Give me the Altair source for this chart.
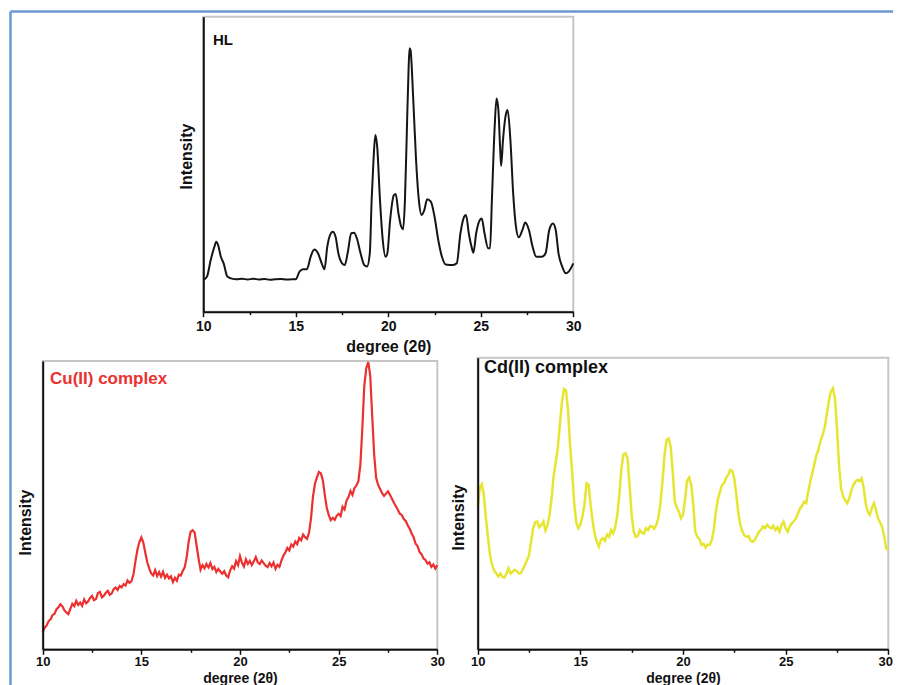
import altair as alt
import pandas as pd

# ---------------- data ----------------
hl_x = [10.0, 10.2, 10.4, 10.6, 10.7, 10.8, 10.95, 11.1, 11.3, 11.5,
        11.8, 12.1, 12.4, 12.7, 13.0, 13.3, 13.6, 13.9, 14.2, 14.5,
        14.8, 15.0, 15.2, 15.4, 15.6, 15.8, 16.0, 16.2, 16.4, 16.55,
        16.7, 16.9, 17.0, 17.15, 17.3, 17.5, 17.65, 17.8, 18.0, 18.15,
        18.3, 18.5, 18.7, 18.85, 19.0, 19.1, 19.2, 19.3, 19.4, 19.55,
        19.7, 19.85, 19.95, 20.1, 20.3, 20.4, 20.55, 20.7, 20.8, 20.9,
        21.0, 21.1, 21.15, 21.2, 21.35, 21.5, 21.65, 21.8, 21.95, 22.1,
        22.3, 22.5, 22.7, 22.9, 23.1, 23.5, 23.7, 23.9, 24.1, 24.2,
        24.35, 24.5, 24.6, 24.75, 24.95, 25.05, 25.2, 25.4, 25.5, 25.6,
        25.75, 25.85, 25.95, 26.05, 26.1, 26.2, 26.35, 26.45, 26.6, 26.75,
        26.9, 27.05, 27.25, 27.4, 27.6, 27.8, 28.0, 28.3, 28.5, 28.7,
        28.9, 29.05, 29.2, 29.4, 29.6, 29.75, 30.0]
hl_y = [10.7, 11.9, 17.5, 22.0, 23.7, 22.6, 18.6, 16.4, 11.9, 11.3,
        11.0, 11.2, 10.9, 11.2, 10.9, 11.1, 10.8, 11.0, 11.1, 10.9,
        11.0, 11.0, 13.6, 14.4, 14.4, 18.6, 21.1, 19.8, 16.4, 14.4,
        22.0, 26.6, 27.1, 25.4, 19.8, 16.4, 15.8, 19.8, 26.6, 26.8,
        24.9, 19.8, 15.8, 15.3, 19.8, 37.9, 51.4, 59.9, 55.9, 37.9,
        24.3, 18.6, 19.8, 31.1, 39.5, 39.9, 33.3, 28.8, 27.9, 37.9,
        60.5, 83.0, 89.3, 88.7, 71.8, 51.4, 37.9, 32.8, 34.5, 38.1,
        37.3, 32.2, 24.3, 18.6, 16.0, 15.8, 16.4, 26.6, 32.2, 32.8,
        26.6, 22.0, 20.0, 26.6, 31.1, 31.6, 26.6, 21.5, 21.5, 37.9,
        62.7, 72.3, 68.4, 54.8, 49.4, 58.2, 66.7, 68.4, 58.2, 40.1,
        28.8, 25.2, 27.7, 30.2, 27.7, 22.0, 18.6, 18.6, 19.8, 27.7,
        29.9, 27.7, 19.8, 15.3, 13.0, 13.6, 16.4]

# Cu(II) complex: one value every 0.1 degree from 10.0 to 30.0
cu_y = [6.1, 7.5, 8.3, 9.8, 10.4, 11.9, 12.3, 13.9, 14.6, 15.6,
        14.9, 13.5, 12.8, 12.2, 14.0, 15.8, 15.0, 16.8, 15.4, 16.2,
        15.1, 17.3, 16.0, 16.6, 17.8, 18.5, 17.0, 17.4, 19.5, 19.9,
        18.0, 18.6, 19.6, 20.3, 18.9, 19.4, 20.9, 21.4, 20.6, 22.0,
        21.5, 22.6, 22.1, 23.9, 23.0, 23.6, 26.0, 30.5, 34.5, 37.2,
        38.8, 37.0, 33.5, 30.2, 28.0, 26.3, 25.6, 27.5, 25.4, 26.8,
        25.2, 26.9, 24.8, 25.9, 24.6, 25.3, 23.3, 24.8, 23.8, 25.9,
        25.6, 27.2, 28.5, 32.0, 37.5, 40.8, 41.3, 40.5, 36.0, 31.5,
        27.6, 29.2, 28.1, 29.6, 28.4, 29.9, 27.8, 28.6, 26.8, 27.9,
        27.0, 26.2, 27.1, 25.6, 25.0, 27.3, 28.8, 28.0, 30.6, 29.2,
        32.3, 30.0, 28.7, 31.2, 29.6, 30.7, 29.2, 30.5, 32.0, 30.2,
        29.6, 30.8, 29.9, 29.0, 28.5, 29.9, 28.8, 30.1, 27.9, 29.3,
        28.6, 30.8, 32.5, 33.6, 35.2, 34.3, 36.4, 35.6, 37.4, 36.5,
        38.6, 37.8, 39.8, 38.9, 38.3, 40.5, 45.5, 53.0, 57.5, 59.6,
        61.5, 61.0, 58.6, 53.5, 49.0, 46.5, 44.8, 45.6, 44.9, 46.3,
        47.0, 46.2, 49.4, 48.5, 51.6, 52.8, 54.9, 53.6, 55.9, 56.8,
        58.3, 64.0, 76.5, 91.5, 97.5, 99.6, 95.0, 81.0, 67.5, 59.5,
        57.0, 55.6, 54.2, 53.2, 54.0, 54.8, 53.6, 52.2, 50.8, 49.6,
        48.4, 47.0, 46.6, 45.2, 44.5, 43.0, 41.8, 40.2, 38.9, 36.6,
        35.8, 33.8, 33.0, 31.5, 31.0, 29.7, 30.2, 28.6, 29.4, 28.0,
        29.2]

# Cd(II) complex: one value every 0.1 degree from 10.0 to 30.0
cd_y = [48.9, 55.2, 56.6, 52.9, 45.0, 38.5, 32.3, 29.0, 27.0, 26.1,
        25.0, 26.0, 24.8, 24.6, 25.9, 27.8, 26.0, 26.6, 27.3, 26.9,
        26.0, 26.1, 27.5, 28.9, 30.5, 32.3, 36.9, 41.5, 43.6, 43.8,
        41.8, 42.6, 43.8, 40.8, 42.5, 46.1, 51.8, 59.5, 64.0, 69.0,
        77.0, 84.5, 89.3, 88.8, 82.0, 70.0, 60.9, 50.0, 43.5, 41.5,
        42.8, 45.5, 49.5, 56.9, 56.5, 49.5, 44.0, 39.5, 36.9, 35.2,
        37.5, 38.1, 37.2, 39.3, 38.5, 40.9, 39.8, 42.0, 46.1, 53.0,
        62.0, 66.8, 67.2, 65.5, 56.0, 46.0, 40.3, 38.5, 38.9, 40.9,
        40.0, 39.7, 41.5, 40.9, 42.3, 42.1, 41.4, 42.7, 45.0, 50.0,
        57.5, 66.6, 71.8, 72.3, 69.5, 60.9, 50.6, 48.6, 47.2, 44.9,
        46.0, 51.5, 57.8, 58.9, 56.5, 49.5, 40.3, 38.6, 37.8, 35.8,
        36.2, 34.9, 35.9, 35.8, 37.5, 41.0, 47.2, 51.5, 54.0, 56.3,
        57.0, 58.8, 59.8, 61.5, 61.2, 58.5, 52.9, 46.5, 42.5, 40.3,
        39.0, 38.6, 38.8, 37.2, 36.9, 37.6, 38.9, 40.3, 41.0, 42.1,
        41.6, 42.7, 41.9, 41.5, 42.4, 40.9, 41.8, 40.3, 42.6, 43.8,
        41.5, 40.3, 42.2, 43.2, 43.9, 44.9, 46.6, 48.3, 49.2, 50.6,
        50.1, 54.0, 57.5, 60.5, 63.5, 66.6, 68.5, 71.5, 73.5, 76.0,
        80.5, 84.9, 88.3, 89.5, 86.1, 75.8, 63.2, 55.2, 52.5, 51.0,
        50.1, 51.8, 54.5, 56.3, 57.5, 58.1, 57.7, 58.6, 55.5, 50.0,
        47.2, 46.1, 48.5, 50.1, 47.8, 44.9, 43.5, 42.0, 38.8, 34.6,
        34.1]

scan_x = [round(10 + 0.1 * i, 1) for i in range(len(cu_y))]

x_ticks = [10, 12.5, 15, 17.5, 20, 22.5, 25, 27.5, 30]
x_domain = [10, 30]
y_domain = [0, 100]
panel_labels = ["HL", "Cu(II) complex", "Cd(II) complex"]

# ---------------- layout / style ----------------
W, H = 883, 700
FONT = "Liberation Sans"
BLUE = "#6a98d2"

def panel(xs, ys, line_color, label, label_color, label_pos, xr, yr, label_size,
          width, interp, ytitle_y, ytitle_pad, xtitle_y, xtitle_size,
          xlabel_size, xlabel_pad, last_label_shift):
    df = pd.DataFrame({"angle": xs, "intensity": ys})
    frame_df = pd.DataFrame({"angle": [x_domain[0]], "angle2": [x_domain[1]],
                             "intensity": [y_domain[0]], "intensity2": [y_domain[1]]})
    lab_df = pd.DataFrame({"angle": [label_pos[0]], "intensity": [label_pos[1]], "label": [label]})
    xenc = alt.X("angle:Q",
                 scale=alt.Scale(domain=x_domain, range=list(xr), nice=False, zero=False),
                 axis=alt.Axis(orient="bottom", offset=yr[0] - H, values=x_ticks,
                               labelExpr="datum.value % 5 === 0 ? datum.label : ''",
                               labelFlush=False, labelOverlap=False,
                               labelOffset={"condition": {"test": "datum.value === 30",
                                                          "value": last_label_shift},
                                            "value": 0},
                               domainColor="#111111", domainWidth=2,
                               tickColor="#111111", tickWidth=1.5,
                               tickSize={"condition": {"test": "datum.value % 5 === 0", "value": 5}, "value": 3},
                               labelFont=FONT, labelFontSize=xlabel_size, labelFontWeight="bold",
                               labelColor="#111111", labelPadding=xlabel_pad,
                               title="degree (2θ)", titleFont=FONT, titleFontSize=xtitle_size,
                               titleFontWeight="bold", titleColor="#111111",
                               titleBaseline="alphabetic", titleY=xtitle_y,
                               grid=False, zindex=2))
    yenc = alt.Y("intensity:Q",
                 scale=alt.Scale(domain=y_domain, range=list(yr), nice=False, zero=False),
                 axis=alt.Axis(orient="left", offset=-xr[0], ticks=False, labels=False,
                               domainColor="#111111", domainWidth=2,
                               title="Intensity", titleFont=FONT, titleFontSize=16,
                               titleFontWeight="bold", titleColor="#111111",
                               titlePadding=ytitle_pad, titleY=ytitle_y,
                               grid=False, zindex=2))
    frame = alt.Chart(frame_df).mark_rect(fillOpacity=0, stroke="#c6c6c6", strokeWidth=2).encode(
        x=xenc, x2="angle2:Q", y=yenc, y2="intensity2:Q")
    line = alt.Chart(df).mark_line(color=line_color, strokeWidth=width, interpolate=interp).encode(
        x=xenc, y=yenc)
    text = alt.Chart(lab_df).mark_text(align="left", baseline="middle", font=FONT,
                                       fontSize=label_size, fontWeight="bold",
                                       color=label_color).encode(
        x=xenc, y=yenc, text="label:N")
    return alt.layer(frame, line, text)

hl = panel(hl_x, hl_y, "#151515", panel_labels[0], "#111111", (10.52, 92.1),
           (193.3, 563.3), (300.7, 5.7), 15, 2.0, "monotone", 145, 9,
           40, 16, 14, 3, 0)
cu = panel(scan_x, cu_y, "#ec3030", panel_labels[1], "#ec3030", (10.37, 93.8),
           (32.7, 427.3), (638.3, 350.0), 17, 2.2, "linear", 511, 9,
           32.7, 14, 13, 1.5, 0)
cd = panel(scan_x, cd_y, "#e6e632", panel_labels[2], "#111111", (10.31, 96.5),
           (467.7, 878.3), (638.3, 346.7), 18, 2.5, "linear", 506, 11,
           32.7, 14, 13, 1.5, -3)

border_df = pd.DataFrame({"bx": [0], "by": [0]})
border = alt.Chart(border_df).mark_point(opacity=0).encode(
    x=alt.X("bx:Q", scale=alt.Scale(domain=[0, 1]),
            axis=alt.Axis(orient="top", domainColor=BLUE, domainWidth=2.5, ticks=False,
                          labels=False, title=None, grid=False)),
    y=alt.Y("by:Q", scale=alt.Scale(domain=[0, 1]),
            axis=alt.Axis(orient="left", domainColor=BLUE, domainWidth=2.5, ticks=False,
                          labels=False, title=None, grid=False)),
)

chart = alt.layer(border, hl, cu, cd).resolve_scale(
    x="independent", y="independent"
).resolve_axis(
    x="independent", y="independent"
).properties(
    width=W, height=H,
    autosize=alt.AutoSizeParams(type="none"),
    padding={"left": 2, "top": 3, "right": 0, "bottom": 0},
    background="white",
).configure_view(stroke="transparent")

chart.save("out.html", embed_options={"renderer": "svg", "actions": False})
